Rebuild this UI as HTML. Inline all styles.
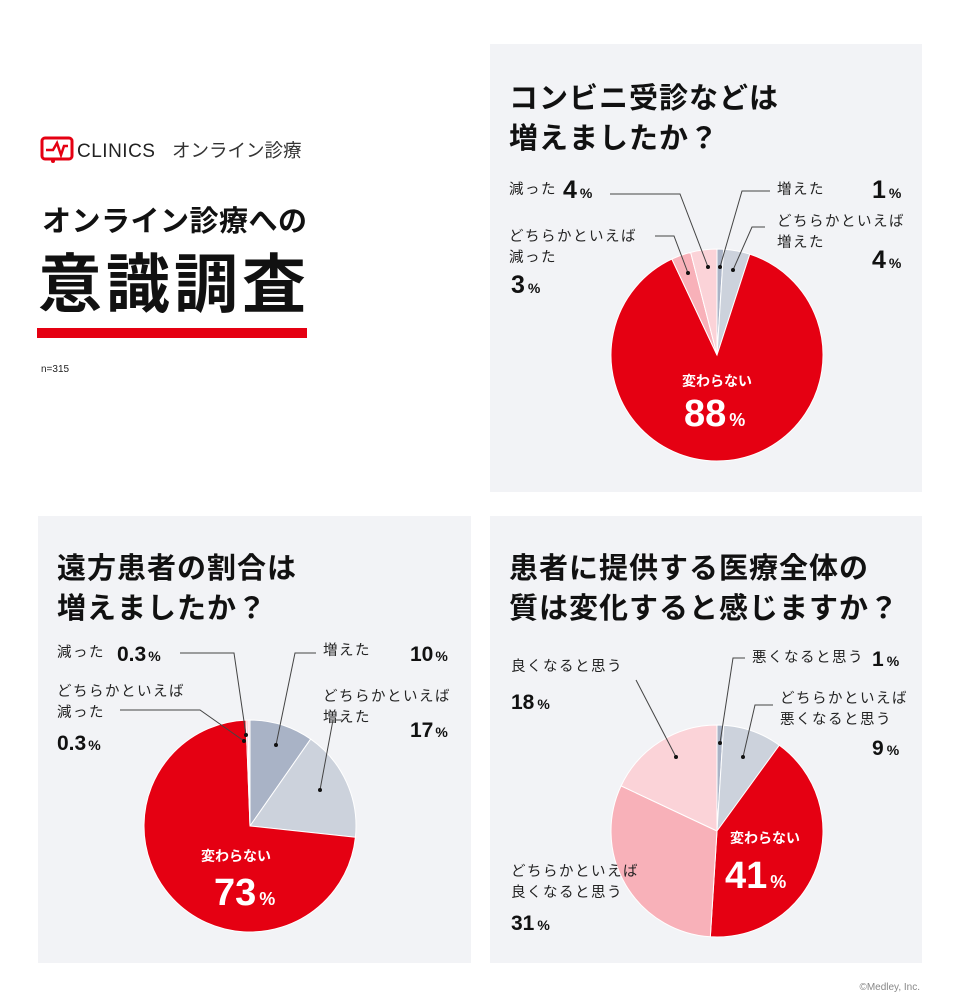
<!DOCTYPE html>
<html><head><meta charset="utf-8"><style>
body{margin:0;background:#fff;}
svg{display:block;font-family:"Liberation Sans","Noto Sans CJK JP",sans-serif;}
.t{font-size:29px;font-weight:bold;fill:#111;letter-spacing:1px}
.l{font-size:14.5px;fill:#222;letter-spacing:1.5px}
.n{font-size:25px;font-weight:bold;fill:#111}
.m{font-size:21px;font-weight:bold;fill:#111}
.p{font-size:14px;font-weight:bold}
.ln{stroke:#444;stroke-width:1;fill:none}
</style></head><body>
<svg id="s" width="960" height="1007" viewBox="0 0 960 1007">
<rect x="490" y="44" width="432" height="448" fill="#f2f3f6"/>
<rect x="38" y="516" width="433" height="447" fill="#f2f3f6"/>
<rect x="490" y="516" width="432" height="447" fill="#f2f3f6"/>
<!-- logo -->
<rect x="42" y="138" width="30" height="21" rx="3" fill="none" stroke="#e50012" stroke-width="3"/>
<polyline points="46,150 53,150 57,143 61,155 64,146 68,146" fill="none" stroke="#e50012" stroke-width="2.5"/>
<circle cx="53" cy="161" r="2" fill="#e50012"/>
<text x="77" y="157" font-size="19" fill="#222" letter-spacing="0.5">CLINICS</text>
<text x="172" y="157" font-size="18.5" fill="#333">オンライン診療</text>
<text x="42" y="231" font-size="29" font-weight="bold" fill="#111" letter-spacing="0.5">オンライン診療への</text>
<text x="38" y="307" font-size="64" font-weight="bold" fill="#111" letter-spacing="4">意識調査</text>
<rect x="37" y="328" width="270" height="10" fill="#e50012"/>
<text x="41" y="372" font-size="10" fill="#222">n=315</text>
<!-- titles -->
<text class="t" x="509" y="108">コンビニ受診などは</text>
<text class="t" x="509" y="148">増えましたか？</text>
<text class="t" x="57" y="578">遠方患者の割合は</text>
<text class="t" x="57" y="618">増えましたか？</text>
<text class="t" x="509" y="578">患者に提供する医療全体の</text>
<text class="t" x="509" y="618">質は変化すると感じますか？</text>
<g id="pies"></g>
<!-- panel1 labels -->
<text class="l" x="509" y="194">減った</text><text class="n" x="563" y="198">4<tspan class="p" dx="3">%</tspan></text>
<text class="l" x="509" y="241">どちらかといえば</text><text class="l" x="509" y="262">減った</text>
<text class="n" x="511" y="293">3<tspan class="p" dx="3">%</tspan></text>
<text class="l" x="777" y="194">増えた</text><text class="n" x="872" y="198">1<tspan class="p" dx="3">%</tspan></text>
<text class="l" x="777" y="226">どちらかといえば</text><text class="l" x="777" y="247">増えた</text>
<text class="n" x="872" y="268">4<tspan class="p" dx="3">%</tspan></text>
<polyline class="ln" points="610,194 680,194 708,267"/>
<polyline class="ln" points="655,236 674,236 688,273"/>
<polyline class="ln" points="770,191 742,191 720,267"/>
<polyline class="ln" points="765,227 752,227 733,270"/>
<circle cx="708" cy="267" r="2" fill="#111"/><circle cx="688" cy="273" r="2" fill="#111"/><circle cx="720" cy="267" r="2" fill="#111"/><circle cx="733" cy="270" r="2" fill="#111"/>
<text x="717" y="386" font-size="14" font-weight="bold" fill="#fff" text-anchor="middle">変わらない</text>
<text x="684" y="426" font-size="38" font-weight="bold" fill="#fff">88<tspan font-size="18" dx="3">%</tspan></text>
<!-- panel2 labels -->
<text class="l" x="57" y="657">減った</text><text class="m" x="117" y="661">0.3<tspan class="p" dx="2">%</tspan></text>
<text class="l" x="57" y="696">どちらかといえば</text><text class="l" x="57" y="717">減った</text>
<text class="m" x="57" y="750">0.3<tspan class="p" dx="2">%</tspan></text>
<text class="l" x="323" y="655">増えた</text><text class="m" x="410" y="661">10<tspan class="p" dx="2">%</tspan></text>
<text class="l" x="323" y="701">どちらかといえば</text><text class="l" x="323" y="722">増えた</text>
<text class="m" x="410" y="737">17<tspan class="p" dx="2">%</tspan></text>
<polyline class="ln" points="180,653 234,653 246,735"/>
<polyline class="ln" points="120,710 200,710 244,741"/>
<polyline class="ln" points="316,653 295,653 276,745"/>
<polyline class="ln" points="342,720 333,720 320,790"/>
<circle cx="246" cy="735" r="2" fill="#111"/><circle cx="244" cy="741" r="2" fill="#111"/><circle cx="276" cy="745" r="2" fill="#111"/><circle cx="320" cy="790" r="2" fill="#111"/>
<text x="236" y="861" font-size="14" font-weight="bold" fill="#fff" text-anchor="middle">変わらない</text>
<text x="214" y="905" font-size="38" font-weight="bold" fill="#fff">73<tspan font-size="18" dx="3">%</tspan></text>
<!-- panel3 labels -->
<text class="l" x="511" y="671">良くなると思う</text><text class="m" x="511" y="709">18<tspan class="p" dx="3">%</tspan></text>
<text class="l" x="511" y="876">どちらかといえば</text><text class="l" x="511" y="897">良くなると思う</text>
<text class="m" x="511" y="930">31<tspan class="p" dx="3">%</tspan></text>
<text class="l" x="752" y="662">悪くなると思う</text><text class="m" x="872" y="666">1<tspan class="p" dx="3">%</tspan></text>
<text class="l" x="780" y="703">どちらかといえば</text><text class="l" x="780" y="724">悪くなると思う</text>
<text class="m" x="872" y="755">9<tspan class="p" dx="3">%</tspan></text>
<polyline class="ln" points="636,680 676,757"/>
<polyline class="ln" points="745,658 733,658 720,743"/>
<polyline class="ln" points="773,705 755,705 743,757"/>
<circle cx="676" cy="757" r="2" fill="#111"/><circle cx="720" cy="743" r="2" fill="#111"/><circle cx="743" cy="757" r="2" fill="#111"/>
<text x="765" y="843" font-size="14" font-weight="bold" fill="#fff" text-anchor="middle">変わらない</text>
<text x="725" y="888" font-size="38" font-weight="bold" fill="#fff">41<tspan font-size="18" dx="3">%</tspan></text>
<text x="920" y="990" font-size="10" fill="#888" text-anchor="end">©Medley, Inc.</text>
</svg>
<script>
function pie(cx,cy,r,data){var a=0,s='';data.forEach(function(d){var a2=a+d[0]/100*2*Math.PI;
var x1=cx+r*Math.sin(a),y1=cy-r*Math.cos(a),x2=cx+r*Math.sin(a2),y2=cy-r*Math.cos(a2);
s+='<path d="M'+cx+','+cy+'L'+x1+','+y1+'A'+r+','+r+' 0 '+((a2-a)>Math.PI?1:0)+' 1 '+x2+','+y2+'Z" fill="'+d[1]+'" stroke="#fff" stroke-width="1"/>';a=a2;});return s;}
var R='#e50012',G1='#a9b3c6',G2='#ccd2dc',P1='#f8b1b9',P2='#fbd3d8';
document.getElementById('pies').innerHTML=
pie(717,355,106,[[1,G1],[4,G2],[88,R],[3,P1],[4,P2]])+
pie(250,826,106,[[9.7,G1],[17,G2],[72.7,R],[0.3,P1],[0.3,P2]])+
pie(717,831,106,[[1,G1],[9,G2],[41,R],[31,P1],[18,P2]]);
</script>
</body></html>
